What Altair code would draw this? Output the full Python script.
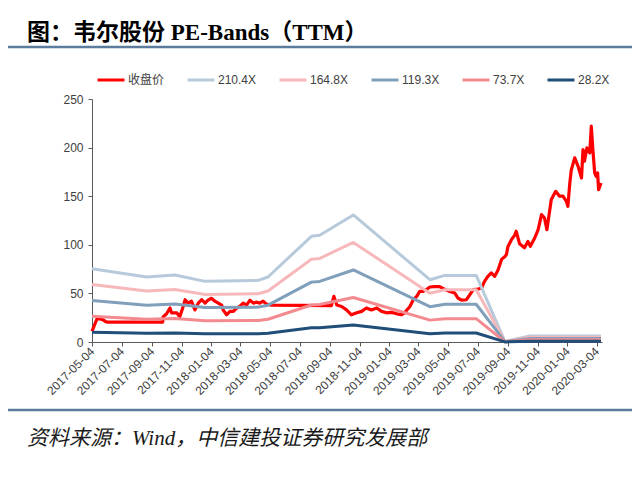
import altair as alt
import pandas as pd

title_text = "图：韦尔股份 PE-Bands（TTM）"
source_text = "资料来源：Wind，中信建投证券研究发展部"

series_names = ["收盘价", "210.4X", "164.8X", "119.3X", "73.7X", "28.2X"]
series_colors = ["#FF0000", "#B7CADB", "#F7B8BB", "#7F9FBA", "#F38A8F", "#1F4E79"]

tick_labels = ["2017-05-04", "2017-07-04", "2017-09-04", "2017-11-04", "2018-01-04",
               "2018-03-04", "2018-05-04", "2018-07-04", "2018-09-04", "2018-11-04",
               "2019-01-04", "2019-03-04", "2019-05-04", "2019-07-04", "2019-09-04",
               "2019-11-04", "2020-01-04", "2020-03-04"]
x_domain = ["2017-05-04", "2020-03-15"]
y_ticks = [0, 50, 100, 150, 200, 250]

price_dates = [
    "2017-05-04", "2017-05-08", "2017-05-14", "2017-05-20", "2017-05-26", "2017-06-01",
    "2017-06-05", "2017-09-26", "2017-09-27", "2017-10-04", "2017-10-11", "2017-10-14",
    "2017-10-25", "2017-10-31", "2017-11-06", "2017-11-11", "2017-11-17", "2017-11-24",
    "2017-12-01", "2017-12-08", "2017-12-15", "2017-12-22", "2017-12-28", "2018-01-04",
    "2018-01-11", "2018-01-18", "2018-01-25", "2018-01-28", "2018-02-04", "2018-02-11",
    "2018-02-18", "2018-02-25", "2018-03-03", "2018-03-10", "2018-03-17", "2018-03-24",
    "2018-03-31", "2018-04-07", "2018-04-13", "2018-04-20", "2018-04-27", "2018-05-07",
    "2018-09-07", "2018-09-12", "2018-09-18", "2018-09-28", "2018-10-08", "2018-10-18",
    "2018-10-29", "2018-11-08", "2018-11-18", "2018-11-28", "2018-12-09", "2018-12-19",
    "2018-12-29", "2019-01-08", "2019-01-19", "2019-01-29", "2019-02-04", "2019-02-15",
    "2019-02-22", "2019-03-01", "2019-03-07", "2019-03-14", "2019-03-21", "2019-03-28",
    "2019-04-07", "2019-04-17", "2019-04-28", "2019-05-08", "2019-05-18", "2019-05-25",
    "2019-06-01", "2019-06-11", "2019-06-18", "2019-06-25", "2019-07-05", "2019-07-12",
    "2019-07-18", "2019-07-25", "2019-08-01", "2019-08-08", "2019-08-15", "2019-08-22",
    "2019-08-29", "2019-09-01", "2019-09-04", "2019-09-11", "2019-09-18", "2019-09-21",
    "2019-09-28", "2019-10-08", "2019-10-15", "2019-10-20", "2019-10-29", "2019-11-05",
    "2019-11-12", "2019-11-18", "2019-11-23", "2019-12-02", "2019-12-11", "2019-12-19",
    "2019-12-26", "2020-01-02", "2020-01-05", "2020-01-09", "2020-01-12", "2020-01-19",
    "2020-01-26", "2020-02-02", "2020-02-05", "2020-02-08", "2020-02-13", "2020-02-19",
    "2020-02-22", "2020-02-25", "2020-02-29", "2020-03-03", "2020-03-06", "2020-03-08",
    "2020-03-13"]
price_values = [
    11, 16, 23.5, 24, 23, 21,
    20.5, 20.5, 26, 29, 35, 30,
    30, 26, 35, 43.5, 40, 42,
    33, 40, 43.5, 40, 43, 45,
    42, 40, 38, 33, 28, 31.5,
    31.5, 35, 36.6, 40, 38, 43,
    40, 41, 40, 42, 39, 38,
    37.5, 47, 38, 36.6, 33, 28,
    30, 31.5, 35, 33, 35, 31.5,
    30, 30.5, 29, 28, 30, 36.6,
    43.5, 47, 52, 52, 54, 56.6,
    57, 57, 54, 52, 50.4, 45,
    43, 43.5, 48.7, 54, 54.5, 55.5,
    62.4, 67.5, 71, 67.5, 74.4, 85,
    88, 90, 98, 105, 110, 114,
    101, 97, 103.5, 98.4, 107, 115.6,
    131, 127.6, 115.6, 146.5, 155, 150,
    150, 144.7, 139.6, 163.6, 177, 189.4,
    180.7, 168.8, 198, 186, 199.7, 194.5,
    222, 199.7, 174, 170.5, 174, 156.8,
    163.6]

band_dates = ["2017-05-04", "2017-08-24", "2017-10-21", "2017-12-22", "2018-04-10",
              "2018-04-30", "2018-07-28", "2018-08-14", "2018-10-22", "2019-03-28",
              "2019-04-28", "2019-07-01", "2019-08-29", "2019-10-19", "2020-03-13"]
band_210_4 = [75.4, 66.9, 69.0, 62.4, 63.4, 66.9, 108.7, 109.8, 130.7, 64.1, 68.5, 68.5, 0.5, 6.3, 6.3]
band_164_8 = [59.1, 52.4, 54.0, 48.9, 49.7, 52.4, 85.1, 86.0, 102.4, 50.2, 53.7, 53.7, 0.4, 4.9, 4.9]
band_119_3 = [42.8, 37.9, 39.1, 35.4, 35.9, 37.9, 61.6, 62.3, 74.1, 36.3, 38.8, 38.8, 0.3, 3.6, 3.6]
band_73_7 = [26.4, 23.4, 24.2, 21.9, 22.2, 23.4, 38.1, 38.5, 45.8, 22.5, 24.0, 24.0, 0.2, 2.2, 2.2]
band_28_2 = [10.1, 9.0, 9.2, 8.4, 8.5, 9.0, 14.6, 14.7, 17.5, 8.6, 9.2, 9.2, 0.1, 0.8, 0.8]


def ms(d):
    return int(pd.Timestamp(d).value // 10**6)


price_df = pd.DataFrame({"date": price_dates, "value": price_values, "series": series_names[0]})
band_frames = []
for name, vals in zip(series_names[1:], [band_210_4, band_164_8, band_119_3, band_73_7, band_28_2]):
    band_frames.append(pd.DataFrame({"date": band_dates, "value": vals, "series": name}))
band_df = pd.concat(band_frames, ignore_index=True)

axis_color = "#595959"
label_color = "#404040"

x_enc = alt.X("date:T",
              scale=alt.Scale(type="utc", domain=[ms(x_domain[0]), ms(x_domain[1])]),
              axis=alt.Axis(values=[ms(t) for t in tick_labels],
                            labelExpr="utcFormat(datum.value, '%Y-%m-%d')",
                            labelAngle=-45, labelAlign="right",
                            labelBaseline="middle", tickSize=4, labelPadding=3,
                            grid=False, title=None, labelFontSize=12,
                            labelFont="Liberation Sans", labelColor=label_color,
                            domainColor=axis_color, tickColor=axis_color,
                            labelOverlap=False))
y_enc = alt.Y("value:Q", scale=alt.Scale(domain=[0, 250], nice=False),
              axis=alt.Axis(values=y_ticks, grid=False, tickSize=4, labelPadding=5,
                            title=None, labelFontSize=12, labelFont="Liberation Sans",
                            labelColor=label_color, domainColor=axis_color,
                            tickColor=axis_color))
color_enc = alt.Color("series:N",
                      scale=alt.Scale(domain=series_names, range=series_colors),
                      legend=alt.Legend(title=None, orient="none", direction="horizontal",
                                        legendX=4, legendY=-34, symbolType="stroke",
                                        symbolSize=729, symbolStrokeWidth=3,
                                        labelFontSize=12,
                                        labelFont="Liberation Sans, Noto Sans CJK SC",
                                        labelColor=label_color, labelOffset=2,
                                        columnPadding=16, labelLimit=200))

price_line = alt.Chart(price_df).mark_line(strokeWidth=3.2, strokeJoin="round").encode(
    x=x_enc, y=y_enc, color=color_enc)
band_lines = alt.Chart(band_df).mark_line(strokeWidth=3, strokeJoin="round").encode(
    x=x_enc, y=y_enc, color=color_enc)

title_mark = alt.Chart(pd.DataFrame({"t": [title_text]})).mark_text(
    align="left", baseline="alphabetic", fontSize=23, fontWeight="bold",
    font="Liberation Serif, Noto Sans CJK SC", color="#000000").encode(
    text="t:N", x=alt.value(-65), y=alt.value(-59))
top_rule = alt.Chart(pd.DataFrame({"t": [0]})).mark_rule(
    color="#5B7C9C", strokeWidth=2.5).encode(
    x=alt.value(-84), x2=alt.value(540), y=alt.value(-52))
bottom_rule = alt.Chart(pd.DataFrame({"t": [0]})).mark_rule(
    color="#5B7C9C", strokeWidth=2.5).encode(
    x=alt.value(-84), x2=alt.value(540), y=alt.value(311))
source_mark = alt.Chart(pd.DataFrame({"t": [source_text]})).mark_text(
    align="left", baseline="alphabetic", fontSize=21, fontStyle="italic",
    font="Liberation Serif, Noto Sans CJK SC", color="#1a1a1a").encode(
    text="t:N", x=alt.value(-65), y=alt.value(346))

chart = alt.layer(price_line, band_lines, title_mark, top_rule, bottom_rule, source_mark).properties(
    width=510, height=243,
    padding={"left": 84, "top": 91, "right": 30, "bottom": 120},
    autosize=alt.AutoSizeParams(type="none"),
).configure_view(stroke=None)

chart.save("out.html", embed_options={"renderer": "svg", "actions": False})
